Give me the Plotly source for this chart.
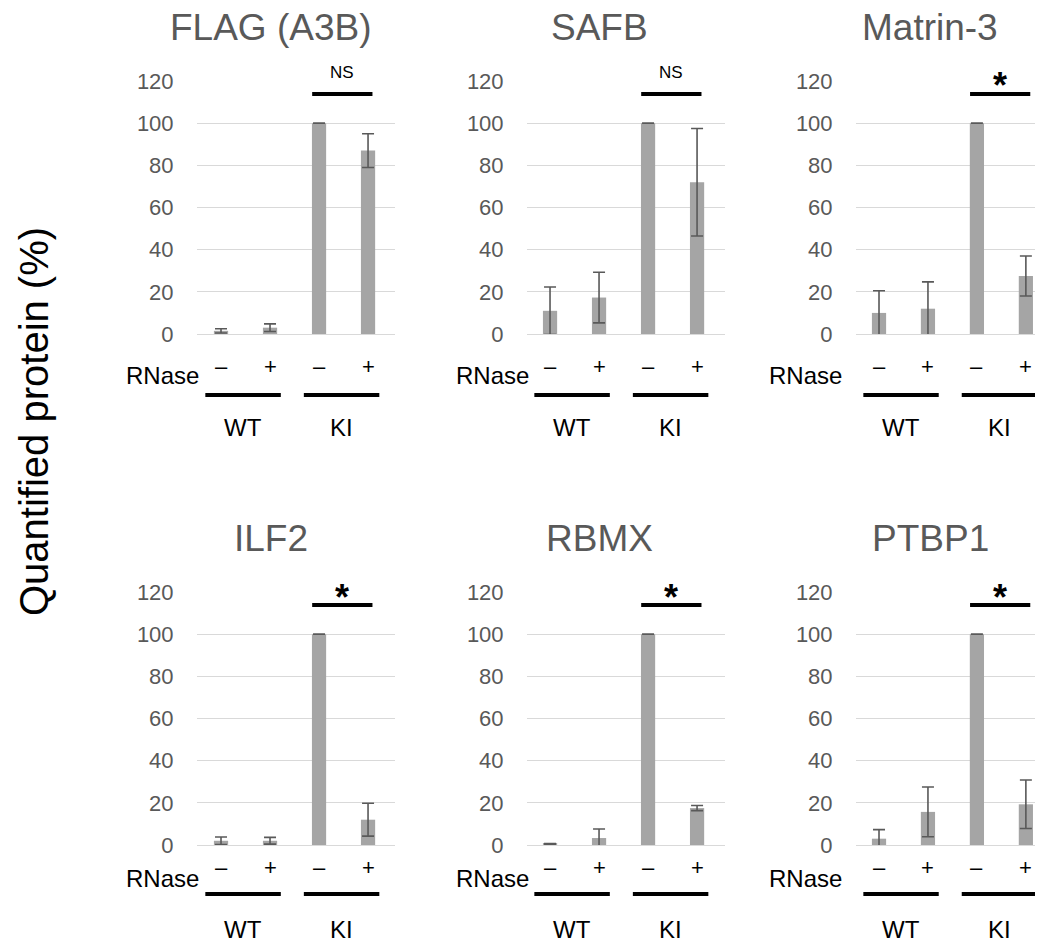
import plotly.graph_objects as go

W, H = 1043, 944
OFF = 8  # default body margin of the html page

# ---------------- data ----------------
proteins = ["FLAG (A3B)", "SAFB", "Matrin-3", "ILF2", "RBMX", "PTBP1"]
conditions = ["WT –", "WT +", "KI –", "KI +"]
rnase_labels = ["–", "+", "–", "+"]
genotypes = ["WT", "KI"]

flag_vals = [1.5, 3.0, 100, 87]
flag_err = [1.0, 1.8, 0, 8.0]
safb_vals = [11, 17.3, 100, 72]
safb_err = [11.3, 12.0, 0, 25.5]
matrin_vals = [10, 12, 100, 27.5]
matrin_err = [10.5, 12.7, 0, 9.5]
ilf2_vals = [2.0, 2.0, 100, 12]
ilf2_err = [1.8, 1.6, 0, 7.8]
rbmx_vals = [0.5, 3.3, 100, 17.5]
rbmx_err = [0.2, 4.3, 0, 1.2]
ptbp1_vals = [3.0, 15.7, 100, 19.3]
ptbp1_err = [4.3, 11.8, 0, 11.5]

significance = ["NS", "NS", "*", "*", "*", "*"]

values = [flag_vals, safb_vals, matrin_vals, ilf2_vals, rbmx_vals, ptbp1_vals]
errors = [flag_err, safb_err, matrin_err, ilf2_err, rbmx_err, ptbp1_err]

FW, FH = W - OFF, H - OFF  # figure size that fits the window

# ---------------- layout helpers (screen pixel -> paper) ----------------
def px(x):
    return (x - OFF) / FW

def py(y):
    return 1 - (y - OFF) / FH

col_dom = [(197, 395), (527, 725), (856, 1043)]
col_rng = [(-0.49, 3.55), (-0.47, 3.57), (-0.47, 3.35)]
col_title_x = [271, 599, 930]
col_rnase_right = [201, 531, 844]
row_dom = [(334, 81), (845, 592)]
row_title_y = [27, 538]
row_ns_y = [73, 584]
row_star_y = [82, 594]
row_pm_y = [366, 867]
row_rnase_y = [376, 878]
row_line_y = [395, 894]
row_geno_y = [428, 929]

GRAY = "#595959"
BAR = "#A5A5A5"
GRID = "#D9D9D9"
FONT = "Liberation Sans, Arial, sans-serif"

fig = go.Figure()
annotations = []
shapes = []

for k in range(6):
    r, c = divmod(k, 3)
    n = k + 1
    xa = "x" if n == 1 else f"x{n}"
    ya = "y" if n == 1 else f"y{n}"
    fig.add_trace(go.Bar(
        x=list(range(4)), y=values[k],
        marker=dict(color=BAR, line=dict(width=0)),
        width=0.29,
        error_y=dict(type="data", array=errors[k], visible=True,
                     color=GRAY, thickness=1.6, width=6),
        xaxis=xa, yaxis=ya, showlegend=False, hoverinfo="y",
    ))
    x0, x1 = col_dom[c]
    yb, yt = row_dom[r]
    fig.layout[("xaxis" if n == 1 else f"xaxis{n}")] = dict(
        domain=[px(x0), min(px(x1), 1.0)], range=list(col_rng[c]), anchor=ya,
        showticklabels=False, showgrid=False, zeroline=False, showline=False,
        fixedrange=True, automargin=False,
    )
    fig.layout[("yaxis" if n == 1 else f"yaxis{n}")] = dict(
        domain=[py(yb), py(yt)], range=[0, 120], anchor=xa,
        dtick=20, showgrid=True, gridcolor=GRID, gridwidth=1.4,
        zeroline=True, zerolinecolor=GRID, zerolinewidth=1.4,
        showline=False, ticks="outside", ticklen=18, tickcolor="rgba(0,0,0,0)",
        tickfont=dict(family=FONT, size=22, color=GRAY), fixedrange=True,
        automargin=False,
    )
    xref = xa
    yref = ya
    annotations.append(dict(text=proteins[k], x=px(col_title_x[c]), y=py(row_title_y[r]),
                            xref="paper", yref="paper", showarrow=False,
                            xanchor="center", yanchor="middle",
                            font=dict(family=FONT, size=37, color=GRAY)))
    shapes.append(dict(type="line", xref=xref, yref=yref, x0=1.86, x1=3.09,
                       y0=113.8, y1=113.8, line=dict(color="black", width=4)))
    if significance[k] == "NS":
        annotations.append(dict(text="NS", x=2.47, y=py(row_ns_y[r]), xref=xref, yref="paper",
                                showarrow=False, xanchor="center", yanchor="middle",
                                font=dict(family=FONT, size=17, color="black")))
    else:
        # asterisk glyph sits high in its box: anchor box so glyph centre lands at row_star_y
        annotations.append(dict(text="<b>*</b>", x=2.47, y=py(row_star_y[r] + 3),
                                xref=xref, yref="paper",
                                showarrow=False, xanchor="center", yanchor="middle",
                                font=dict(family=FONT, size=36, color="black")))
    for i, lab in enumerate(rnase_labels):
        annotations.append(dict(text=lab, x=i, y=py(row_pm_y[r]), xref=xref, yref="paper",
                                showarrow=False, xanchor="center", yanchor="middle",
                                font=dict(family=FONT, size=22, color="black")))
    annotations.append(dict(text="RNase", x=px(col_rnase_right[c]), y=py(row_rnase_y[r]),
                            xref="paper", yref="paper", showarrow=False,
                            xanchor="right", yanchor="middle",
                            font=dict(family=FONT, size=24, color="black")))
    for g, (a, b) in enumerate([(-0.32, 1.22), (1.69, 3.23)]):
        shapes.append(dict(type="line", xref=xref, yref="paper", x0=a, x1=b,
                           y0=py(row_line_y[r]), y1=py(row_line_y[r]),
                           line=dict(color="black", width=4)))
        annotations.append(dict(text=genotypes[g], x=(a + b) / 2, y=py(row_geno_y[r]),
                                xref=xref, yref="paper", showarrow=False,
                                xanchor="center", yanchor="middle", borderpad=0,
                                font=dict(family=FONT, size=24, color="black")))

annotations.append(dict(text="Quantified protein (%)", x=px(34), y=py(422),
                        xref="paper", yref="paper", showarrow=False, textangle=-90,
                        xanchor="center", yanchor="middle",
                        font=dict(family=FONT, size=40, color="black")))

fig.update_layout(
    template="none",
    width=FW, height=FH, margin=dict(l=0, r=0, t=0, b=0, pad=0, autoexpand=False),
    paper_bgcolor="white", plot_bgcolor="white",
    annotations=annotations, shapes=shapes, bargap=0.7,
    font=dict(family=FONT),
)

fig.write_html("out.html")
